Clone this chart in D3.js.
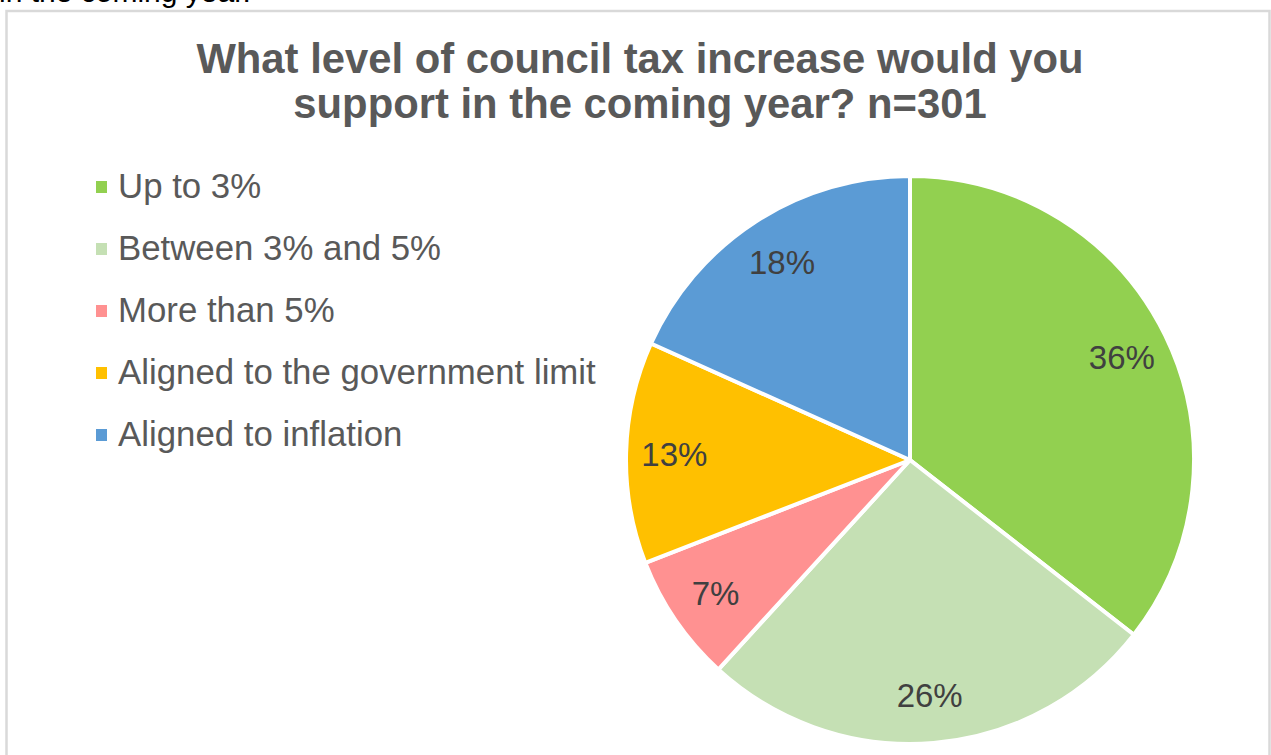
<!DOCTYPE html>
<html>
<head>
<meta charset="utf-8">
<script src="https://cdn.jsdelivr.net/npm/d3@7"></script>
<style>
  body { margin: 0; background: #fff; }
  svg { display: block; font-family: "Liberation Sans", Arial, sans-serif; }
</style>
</head>
<body>
<div id="chart"></div>
<script>
// data (counts out of n=301)
const categories = ["Up to 3%", "Between 3% and 5%", "More than 5%", "Aligned to the government limit", "Aligned to inflation"];
const counts = [107, 79, 22, 38, 55];
const colors = ["#92D050", "#C5E0B4", "#FF9191", "#FFC000", "#5B9BD5"];
const titleLines = ["What level of council tax increase would you", "support in the coming year? n=301"];

const width = 1271;
const height = 755;
const cx = 910;
const cy = 460;
const radius = 284;

const total = d3.sum(counts);
const data = categories.map((c, i) => ({ name: c, value: counts[i], color: colors[i] }));

const svg = d3.select("#chart")
    .append("svg")
    .attr("width", width)
    .attr("height", height);

// bit of the document text cut off above the chart (it is cut off in the original too)
svg.append("text")
    .attr("x", -1)
    .attr("y", 2)
    .attr("font-size", 30)
    .attr("fill", "#000")
    .text("in the coming year.");

// chart frame
svg.append("rect")
    .attr("x", 6.5)
    .attr("y", 11)
    .attr("width", 1263)
    .attr("height", 760)
    .attr("fill", "#fff")
    .attr("stroke", "#d9d9d9")
    .attr("stroke-width", 2.5);

// title
svg.append("text")
    .attr("x", 640)
    .attr("y", 73)
    .attr("text-anchor", "middle")
    .attr("font-size", 41.8)
    .attr("font-weight", "bold")
    .attr("fill", "#595959")
    .selectAll("tspan")
    .data(titleLines)
    .join("tspan")
    .attr("x", 640)
    .attr("dy", (d, i) => i === 0 ? 0 : 44.5)
    .text(d => d);

// pie
const pie = d3.pie().sort(null).value(d => d.value);
const arcs = pie(data);

const arc = d3.arc().innerRadius(0).outerRadius(radius);
const labelArc = d3.arc().innerRadius(radius * 0.83).outerRadius(radius * 0.83);

const g = svg.append("g").attr("transform", `translate(${cx},${cy})`);

g.selectAll("path")
    .data(arcs)
    .join("path")
    .attr("d", arc)
    .attr("fill", d => d.data.color)
    .attr("stroke", "#fff")
    .attr("stroke-width", 4)
    .attr("stroke-linejoin", "round");

g.selectAll("text.label")
    .data(arcs)
    .join("text")
    .attr("class", "label")
    .attr("transform", d => `translate(${labelArc.centroid(d)})`)
    .attr("text-anchor", "middle")
    .attr("dy", "0.36em")
    .attr("font-size", 33)
    .attr("fill", "#404040")
    .text(d => Math.round(d.data.value / total * 100) + "%");

// legend
const legendY = d3.scalePoint()
    .domain(categories)
    .range([187, 435]);

const legend = svg.append("g");

const items = legend.selectAll("g")
    .data(data)
    .join("g")
    .attr("transform", d => `translate(96,${legendY(d.name)})`);

items.append("rect")
    .attr("x", 0)
    .attr("y", -6)
    .attr("width", 11)
    .attr("height", 12)
    .attr("fill", d => d.color);

items.append("text")
    .attr("x", 22)
    .attr("y", 11)
    .attr("font-size", 34.8)
    .attr("fill", "#595959")
    .text(d => d.name);
</script>
</body>
</html>
